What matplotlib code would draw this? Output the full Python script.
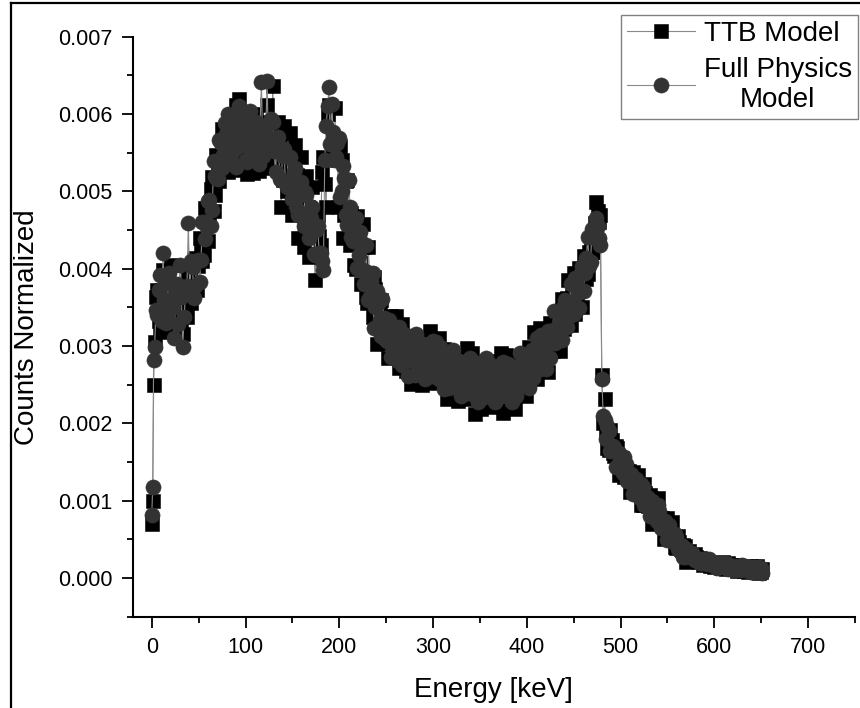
import numpy as np
import matplotlib
matplotlib.use("Agg")
import matplotlib.pyplot as plt
from matplotlib.ticker import MultipleLocator, FormatStrFormatter
from matplotlib.lines import Line2D

plt.rcParams['font.family'] = ['Liberation Sans', 'DejaVu Sans']

# ---------------- data (counts normalized, in units of 1e-5) ----------------
# Energy bins [keV]: 0, 1, 2, then every 3 keV; plus the in-between bins at x+1.5
energy_main_kev = np.concatenate(([0, 1, 2], np.arange(3, 652, 3)))
energy_mid_kev = np.arange(4.5, 651, 3)

ttb_main_1e5 = [
    70, 100, 250,
    305, 372, 318, 398, 360, 322, 405, 340, 318, 375, 316, 345, 392,
    355, 412, 372, 440, 410, 478, 436, 503, 475, 547, 513, 580, 543,
    525, 598, 540, 612, 620, 528, 580, 522, 555, 524, 600, 526, 560, 530, 612, 548,
    636, 548, 590, 480, 585, 500, 576, 470, 560, 440, 545, 428, 520, 415, 506, 385, 470, 430, 545,
    480, 612,
    546, 608, 540, 559, 440, 514, 454, 472, 405, 468, 408, 458, 364, 428, 362, 389, 302,
    355, 313, 333, 284, 339, 295, 339, 271, 329, 284, 313, 251, 302, 267, 293, 250, 310, 271, 319, 253,
    252, 311, 267, 296, 232, 283, 247, 272, 229, 289, 249, 297, 231, 291, 212, 279, 218, 271, 237, 264,
    221, 281, 242, 291, 213, 288, 247, 279, 219, 274, 243, 274, 236,
    299, 265, 318, 257, 323, 286, 322, 266, 325, 297, 330, 294, 361, 329, 385, 327, 395, 361, 401, 350,
    415, 393, 433, 421, 486, 460,
    262, 232,
    168, 192, 162, 171, 133, 155, 131, 139, 111, 137, 112, 133, 94, 122, 96, 107, 70, 93, 104, 78,
    51, 77, 52, 73,
    40, 54, 38, 43, 21, 35,
    24, 31, 23, 26, 17, 23, 18, 20, 14, 20, 16, 21, 12, 20, 14, 17, 9, 15, 11, 13, 8, 15, 10, 16, 6, 12,
]
ttb_mid_1e5 = [
    363, 332, 372, 346, 359, 323, 368, 341, 377, 328, 354, 337,
    391, 374, 414, 403, 429, 418, 472, 471, 518, 495, 534, 533, 565, 546,
    590, 564, 577, 541, 586, 559, 595, 546, 572, 555, 581, 550, 590, 564, 577,
    539, 574, 540, 570, 515, 534, 510, 529, 489, 521, 487, 491, 445, 480, 444, 473, 419, 442,
    525, 510, 600,
    609, 567, 568, 480, 540, 470, 515, 430, 460, 400, 442, 380, 428, 355, 388, 337, 374,
    337, 359, 309, 325, 304, 320, 288, 318, 292, 301, 268, 304, 280, 309, 266, 288, 272, 293, 266, 299,
    275, 286, 253, 289, 263, 292, 248, 269, 252, 273, 246, 278, 254, 265, 233, 271, 248, 279, 237, 260,
    245, 265, 238, 272, 249, 261, 231, 270, 248, 281, 241, 268, 257,
    282, 259, 297, 278, 294, 268, 311, 293, 330, 294, 323, 314, 342, 322, 362, 346, 365, 342, 388, 375,
    417, 387, 422, 421, 459, 475,
    470, 200,
    190, 166, 178, 158, 168, 140, 146, 132, 138, 118, 130, 113, 114, 94, 110, 93, 104, 77, 84, 71,
    77, 58, 70, 53,
    52, 39, 47, 36, 41, 25,
    29, 25, 27, 21, 25, 21, 21, 16, 20, 16, 20, 13, 16, 13, 17, 12, 17, 13, 14, 9, 14, 11, 14, 8, 10, 8,
]

full_main_1e5 = [
    81, 118, 282,
    299, 340, 392, 420, 330, 395, 352, 310, 380, 405, 299, 368, 459,
    410, 362, 410, 383, 460, 438, 488, 455, 539, 517, 566, 530, 588,
    600, 545, 585, 532, 610, 560, 595, 538, 604, 565, 590, 535, 641, 575, 643, 560,
    590, 525, 570, 515, 555, 505, 545, 490, 530, 470, 512, 455, 495, 440, 480, 418, 455, 420, 398,
    585, 635,
    613, 540, 562, 493, 533, 470, 515, 441, 452, 401, 447, 398, 431, 360, 384, 323, 371,
    334, 361, 309, 321, 286, 325, 291, 324, 276, 302, 261, 305, 281, 315, 269, 287, 257, 301, 271, 306,
    305, 258, 285, 244, 286, 262, 295, 248, 266, 236, 279, 249, 284, 238, 266, 227, 272, 250, 285, 240,
    258, 228, 272, 243, 279, 235, 265, 227, 273, 253, 291, 250, 273,
    246, 295, 270, 310, 270, 304, 270, 320, 304, 345, 306, 331, 308, 359, 337, 380, 342, 379, 349, 404,
    394, 441, 409, 443, 465, 440,
    257, 204,
    196, 164, 171, 144, 162, 144, 156, 126, 131, 109, 128, 108, 122, 94, 105, 80, 99, 82, 95, 65,
    71, 49, 68, 48,
    57, 38, 43, 27, 38, 28,
    32, 23, 25, 19, 24, 20, 24, 17, 18, 13, 20, 15, 20, 12, 16, 10, 16, 12, 17, 10, 12, 8, 14, 10, 14, 7,
]
full_mid_1e5 = [
    346, 373, 333, 359, 342, 382, 351, 368, 328, 364, 337, 377,
    373, 402, 378, 411, 411, 460, 454, 489, 476, 520, 516, 562, 547, 574,
    546, 572, 555, 595, 564, 581, 541, 577, 550, 590, 559, 586, 546, 572, 555,
    593, 552, 562, 516, 546, 512, 545, 507, 525, 477, 495, 469, 499, 458, 466, 419, 450, 420,
    410, 540, 610,
    561, 577, 544, 569, 500, 517, 457, 480, 436, 465, 418, 435, 380, 396, 364, 395, 350,
    356, 313, 336, 306, 334, 301, 318, 280, 300, 282, 314, 285, 299, 263, 293, 269, 302, 274, 296, 261,
    283, 267, 299, 270, 282, 246, 275, 250, 282, 254, 276, 240, 262, 246, 279, 252, 267, 233, 264, 241,
    275, 246, 268, 234, 257, 242, 277, 251, 267, 235, 268, 249, 287,
    263, 289, 259, 286, 275, 314, 292, 312, 284, 321, 304, 344, 323, 352, 324, 354, 346, 388, 369, 394,
    371, 414, 403, 451, 440, 455,
    430, 210,
    180, 190, 168, 168, 144, 154, 136, 148, 128, 134, 110, 117, 104, 118, 100, 103, 80, 91, 74, 87,
    67, 74, 50, 57,
    46, 53, 41, 42, 27, 33,
    27, 30, 24, 25, 19, 21, 18, 22, 18, 19, 14, 17, 14, 18, 14, 16, 11, 13, 11, 15, 12, 14, 8, 12, 8, 13,
]

series_labels = ["TTB Model", "Full Physics\nModel"]

# merge main and in-between bins, ordered by energy
energy_all = np.concatenate((energy_main_kev, energy_mid_kev))
order = np.argsort(energy_all, kind='stable')
energy = energy_all[order]
ttb = np.concatenate((ttb_main_1e5, ttb_mid_1e5))[order] * 1e-5
full = np.concatenate((full_main_1e5, full_mid_1e5))[order] * 1e-5

# ---------------- figure ----------------
W, H = 860, 708
fig = plt.figure(figsize=(W / 100, H / 100), dpi=100)
ax = fig.add_axes([133 / W, 1 - 616.7 / H, (855 - 133) / W, (616.7 - 36.7) / H])

line_col = "#8a8a8a"
ax.plot(energy, ttb, color=line_col, lw=0.8, marker='s', ms=9.6,
        mfc='black', mec='black', mew=0.4, label=series_labels[0], zorder=2)
ax.plot(energy, full, color=line_col, lw=0.8, marker='o', ms=10.9,
        mfc='#333333', mec='#333333', mew=0.4, label=series_labels[1], zorder=3)

ax.set_xlim(-20, 750)
ax.set_ylim(-0.0005, 0.007)
ax.xaxis.set_major_locator(MultipleLocator(100))
ax.xaxis.set_minor_locator(MultipleLocator(50))
ax.yaxis.set_major_locator(MultipleLocator(0.001))
ax.yaxis.set_minor_locator(MultipleLocator(0.0005))
ax.yaxis.set_major_formatter(FormatStrFormatter('%.3f'))

for s in ['top', 'right']:
    ax.spines[s].set_visible(False)
for s in ['left', 'bottom']:
    ax.spines[s].set_linewidth(1.5)

ax.tick_params(which='major', direction='out', length=8, width=1.3,
               labelsize=15.5, pad=6.5, colors='black')
ax.tick_params(which='minor', direction='out', length=4.5, width=1.3)

ax.set_xlabel("Energy [keV]", fontsize=20, va='center')
ax.xaxis.set_label_coords((493 - 133) / 722, -(690 - 616.7) / 580)
ax.set_ylabel("Counts Normalized", fontsize=20, va='center')
ax.yaxis.set_label_coords((27 - 133) / 722, 0.5)

leg = ax.legend(loc='upper right', bbox_to_anchor=(858 / W, 1 - 15 / H),
                bbox_transform=fig.transFigure, borderaxespad=0,
                fontsize=20, frameon=True, fancybox=False, framealpha=1,
                edgecolor='#808080', handlelength=2.45, handletextpad=0.3,
                labelspacing=0.35, borderpad=0.22)
leg.get_frame().set_linewidth(1.0)
for t in leg.get_texts():
    t.set_multialignment('center')

# outer frame of the figure (left and top edges)
fig.add_artist(Line2D([11 / W, 11 / W], [0, 1 - 3 / H], transform=fig.transFigure,
                      color='black', lw=1.6))
fig.add_artist(Line2D([11 / W, 1], [1 - 3 / H, 1 - 3 / H], transform=fig.transFigure,
                      color='black', lw=1.6))

fig.savefig("out.png", dpi=100)
